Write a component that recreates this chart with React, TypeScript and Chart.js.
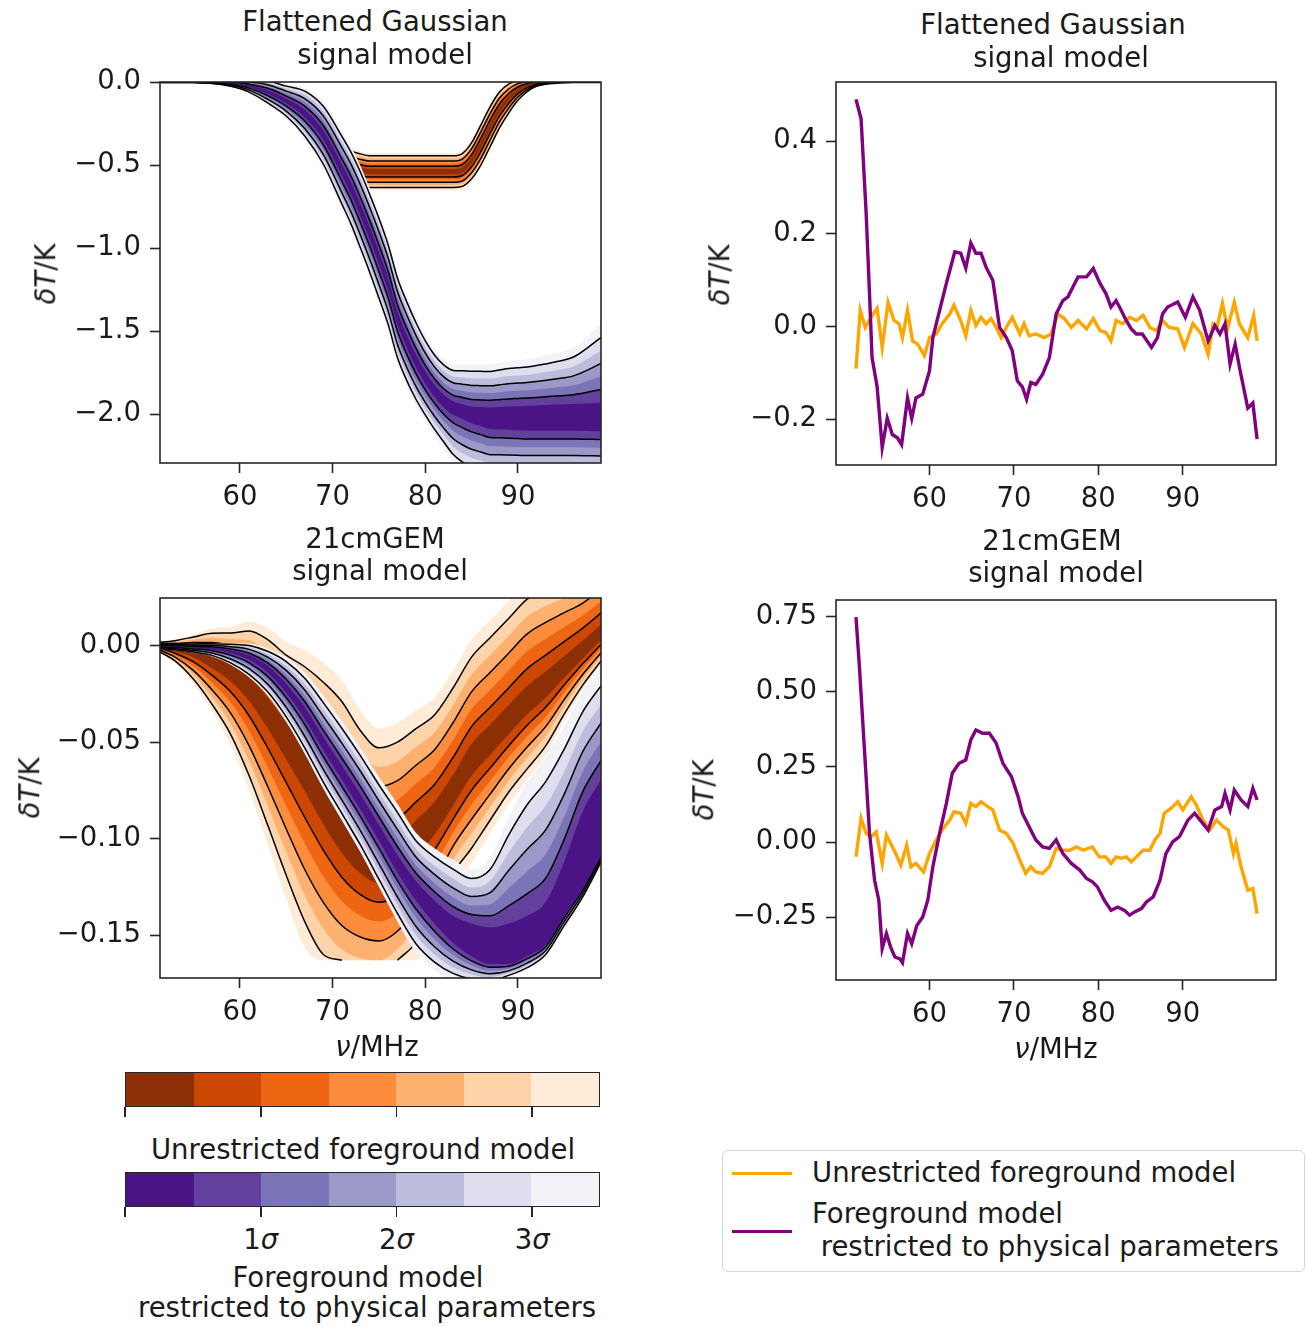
import React, { useEffect, useRef } from 'react';
import { Chart, registerables } from 'chart.js';
Chart.register(...registerables);

const FONT = '"DejaVu Sans", sans-serif';
const FS = 27.5;

// ---------- Left panels: posterior bands ----------
// Flattened Gaussian signal model
const fgFreq = [51, 55, 57, 59, 61, 63, 65, 67, 69, 71, 72, 73, 74, 75, 76, 77, 78, 79, 80, 81, 82, 83, 84, 85, 86, 87, 88, 89, 90, 91, 92, 94, 96, 99];
const fgUnresMean = [0, 0, -0.002, -0.006, -0.02, -0.05, -0.1, -0.19, -0.32, -0.47, -0.515, -0.532, -0.54, -0.54, -0.54, -0.54, -0.54, -0.54, -0.54, -0.54, -0.54, -0.54, -0.53, -0.475, -0.38, -0.27, -0.17, -0.1, -0.05, -0.022, -0.008, -0.001, 0, 0];
const fgUnresSig = [0.001, 0.001, 0.002, 0.004, 0.008, 0.014, 0.022, 0.03, 0.035, 0.035, 0.034, 0.033, 0.032, 0.032, 0.032, 0.032, 0.032, 0.032, 0.032, 0.032, 0.032, 0.032, 0.033, 0.036, 0.04, 0.04, 0.036, 0.029, 0.02, 0.012, 0.006, 0.002, 0.001, 0.001];
const fgPhysMean = [0, 0, -0.003, -0.008, -0.025, -0.06, -0.115, -0.19, -0.32, -0.53, -0.64, -0.77, -0.91, -1.06, -1.22, -1.42, -1.56, -1.68, -1.78, -1.86, -1.92, -1.96, -1.98, -2.0, -2.01, -2.02, -2.02, -2.02, -2.02, -2.02, -2.02, -2.02, -2.02, -2.02];
// offsets of the innermost (0.5 sigma) and outermost (3.5 sigma) contour from the centre
const fgPhysInUp = [0.0005, 0.0005, 0.001, 0.003, 0.006, 0.011, 0.015, 0.0225, 0.029, 0.034, 0.036, 0.038, 0.039, 0.04, 0.04, 0.04, 0.0395, 0.0385, 0.037, 0.036, 0.036, 0.037, 0.04, 0.045, 0.052, 0.06, 0.062, 0.065, 0.0675, 0.07, 0.072, 0.077, 0.08, 0.09];
const fgPhysOutUp = [0.0035, 0.0035, 0.007, 0.021, 0.042, 0.077, 0.105, 0.1575, 0.203, 0.238, 0.252, 0.266, 0.273, 0.28, 0.28, 0.28, 0.2765, 0.2695, 0.259, 0.252, 0.252, 0.26, 0.28, 0.3, 0.31, 0.32, 0.33, 0.34, 0.345, 0.35, 0.36, 0.385, 0.42, 0.56];
const fgPhysInDn = [0.0005, 0.0005, 0.001, 0.003, 0.006, 0.011, 0.015, 0.0225, 0.029, 0.034, 0.036, 0.038, 0.039, 0.04, 0.04, 0.04, 0.0395, 0.0385, 0.037, 0.037, 0.04, 0.045, 0.05, 0.055, 0.062, 0.07, 0.072, 0.075, 0.0775, 0.08, 0.08, 0.08, 0.08, 0.085];
const fgPhysOutDn = [0.0035, 0.0035, 0.007, 0.021, 0.042, 0.077, 0.105, 0.1575, 0.203, 0.238, 0.252, 0.266, 0.273, 0.28, 0.28, 0.28, 0.2765, 0.2695, 0.262, 0.27, 0.29, 0.33, 0.36, 0.37, 0.375, 0.38, 0.38, 0.38, 0.38, 0.38, 0.38, 0.38, 0.38, 0.38];

// 21cmGEM signal model
const gemFreq = [51, 53, 55, 57, 59, 61, 63, 65, 67, 69, 71, 73, 75, 77, 79, 81, 83, 85, 87, 89, 91, 93, 95, 97, 99];
const gemUnresMean = [0, -0.002, -0.004, -0.008, -0.013, -0.021, -0.033, -0.047, -0.062, -0.079, -0.095, -0.107, -0.113, -0.11, -0.1, -0.09, -0.076, -0.06, -0.05, -0.04, -0.03, -0.022, -0.013, -0.004, 0.005];
const gemUnresSigUp = [0.0005, 0.0015, 0.0028, 0.0048, 0.0065, 0.0095, 0.012, 0.014, 0.017, 0.02, 0.022, 0.021, 0.02, 0.02, 0.019, 0.018, 0.018, 0.018, 0.018, 0.018, 0.018, 0.017, 0.015, 0.013, 0.012];
const gemUnresSigDn = [0.0008, 0.002, 0.0045, 0.0075, 0.011, 0.0155, 0.02, 0.024, 0.027, 0.027, 0.025, 0.022, 0.02, 0.019, 0.018, 0.016, 0.014, 0.015, 0.0135, 0.012, 0.0113, 0.01, 0.0075, 0.0055, 0.0043];
const gemUnresFloor = -0.163;
const gemPhysMean = [-0.0003, -0.0005, -0.001, -0.0015, -0.003, -0.006, -0.012, -0.022, -0.035, -0.051, -0.066, -0.081, -0.097, -0.113, -0.127, -0.138, -0.147, -0.153, -0.156, -0.155, -0.151, -0.144, -0.126, -0.106, -0.089];
const gemPhysInUp = [0.0002, 0.00025, 0.0003, 0.0004, 0.0006, 0.001, 0.0015, 0.0022, 0.003, 0.0036, 0.0039, 0.004, 0.0042, 0.0045, 0.005, 0.006, 0.007, 0.009, 0.01, 0.011, 0.011, 0.011, 0.014, 0.02, 0.02];
const gemPhysOutUp = [0.0014, 0.0018, 0.0021, 0.0028, 0.0042, 0.007, 0.0105, 0.016, 0.021, 0.025, 0.027, 0.028, 0.029, 0.031, 0.03, 0.033, 0.036, 0.037, 0.046, 0.066, 0.08, 0.086, 0.084, 0.082, 0.078];
const gemPhysInDn = [0.0002, 0.0003, 0.0004, 0.0006, 0.001, 0.0015, 0.002, 0.0025, 0.003, 0.0033, 0.0035, 0.0038, 0.004, 0.0045, 0.005, 0.006, 0.007, 0.008, 0.009, 0.01, 0.01, 0.011, 0.014, 0.02, 0.02];
const gemPhysOutDn = [0.0014, 0.002, 0.0028, 0.0042, 0.007, 0.0105, 0.014, 0.0175, 0.021, 0.023, 0.0245, 0.026, 0.028, 0.03, 0.032, 0.03, 0.026, 0.022, 0.019, 0.017, 0.017, 0.017, 0.02, 0.025, 0.0235];

// ---------- Right panels: residuals ----------
const resFgPhysX = [51.3, 51.9, 52.5, 52.9, 53.2, 53.8, 54.4, 55.0, 55.6, 56.2, 56.7, 57.4, 57.9, 58.4, 59.2, 60.0, 60.4, 61.2, 62.0, 63.0, 63.7, 64.3, 64.9, 65.5, 66.1, 66.7, 67.5, 68.3, 69.1, 69.8, 70.4, 71.0, 71.5, 72.0, 72.6, 73.4, 74.2, 75.0, 75.8, 76.4, 77.0, 77.6, 78.6, 79.4, 80.2, 80.9, 81.5, 82.1, 82.7, 83.3, 83.9, 84.5, 85.2, 86.3, 87.0, 87.6, 88.2, 89.4, 90.3, 91.2, 92.0, 93.0, 93.8, 94.4, 95.0, 95.6, 96.2, 96.8, 97.7, 98.3, 98.8];
const resFgPhysY = [0.49, 0.448, 0.245, 0.07, -0.067, -0.13, -0.261, -0.198, -0.233, -0.24, -0.255, -0.154, -0.198, -0.154, -0.146, -0.096, -0.024, 0.035, 0.093, 0.161, 0.158, 0.126, 0.18, 0.158, 0.158, 0.128, 0.1, -0.002, -0.024, -0.052, -0.117, -0.13, -0.157, -0.121, -0.125, -0.103, -0.067, 0.027, 0.056, 0.064, 0.086, 0.107, 0.107, 0.125, 0.093, 0.071, 0.042, 0.056, 0.035, 0.013, -0.005, -0.016, -0.016, -0.045, -0.024, 0.027, 0.042, 0.053, 0.02, 0.064, 0.035, -0.031, 0.002, -0.016, 0.006, -0.081, -0.038, -0.096, -0.176, -0.165, -0.243];
const resFgUnresX = [51.3, 51.8, 52.4, 53.1, 53.8, 54.4, 55.1, 55.8, 56.4, 56.8, 57.4, 58.0, 58.6, 59.4, 60.0, 60.8, 61.5, 62.4, 62.9, 63.7, 64.3, 64.9, 65.5, 66.1, 66.7, 67.3, 67.9, 68.5, 69.1, 69.8, 70.7, 71.2, 71.8, 72.6, 73.6, 74.4, 75.2, 76.0, 76.8, 77.6, 78.6, 79.4, 80.2, 80.9, 81.5, 82.1, 82.9, 83.7, 84.5, 85.3, 86.1, 86.9, 87.6, 88.4, 89.4, 90.2, 91.2, 92.2, 93.0, 93.6, 94.1, 94.7, 95.3, 96.1, 96.7, 97.7, 98.4, 98.8];
const resFgUnresY = [-0.091, 0.035, -0.002, 0.02, 0.039, -0.045, 0.052, 0.013, 0.006, -0.024, 0.035, -0.031, -0.038, -0.063, -0.024, -0.016, 0.006, 0.027, 0.046, 0.013, -0.02, 0.035, 0.002, 0.02, 0.006, 0.017, -0.002, -0.024, -0.002, 0.02, -0.016, 0.006, -0.02, -0.016, -0.024, -0.016, 0.027, 0.017, -0.002, 0.013, -0.005, 0.017, -0.009, -0.013, -0.031, 0.013, 0.006, 0.02, 0.013, 0.024, -0.002, -0.009, 0.013, -0.002, -0.005, -0.045, 0.006, -0.016, -0.06, 0.006, 0.002, 0.05, -0.005, 0.052, 0.006, -0.024, 0.024, -0.031];
const resGemPhysX = [51.3, 51.7, 52.3, 52.9, 53.5, 54.0, 54.4, 54.9, 55.4, 55.9, 56.5, 56.8, 57.4, 57.9, 58.5, 59.2, 59.8, 60.4, 61.2, 62.0, 62.7, 63.5, 64.3, 64.9, 65.5, 66.3, 67.1, 67.9, 68.7, 69.7, 70.5, 71.0, 71.8, 72.6, 73.4, 74.2, 75.0, 75.8, 76.8, 77.8, 78.6, 79.3, 79.9, 80.7, 81.5, 82.3, 83.1, 83.7, 84.3, 85.1, 85.7, 86.5, 87.3, 88.0, 88.8, 89.6, 90.6, 91.4, 92.2, 93.0, 93.8, 94.6, 95.0, 95.6, 96.1, 96.9, 97.7, 98.3, 98.8];
const resGemPhysY = [0.748, 0.584, 0.307, 0.029, -0.127, -0.193, -0.354, -0.304, -0.349, -0.382, -0.388, -0.401, -0.304, -0.338, -0.277, -0.249, -0.193, -0.082, 0.029, 0.129, 0.229, 0.262, 0.273, 0.34, 0.373, 0.362, 0.362, 0.329, 0.262, 0.218, 0.151, 0.096, 0.051, 0.007, -0.016, -0.021, 0.007, -0.038, -0.071, -0.093, -0.121, -0.132, -0.149, -0.193, -0.227, -0.216, -0.227, -0.243, -0.232, -0.221, -0.199, -0.182, -0.127, -0.038, 0.001, 0.018, 0.073, 0.096, 0.068, 0.04, 0.107, 0.118, 0.162, 0.107, 0.173, 0.14, 0.118, 0.179, 0.14];
const resGemUnresX = [51.3, 51.9, 52.5, 53.1, 53.7, 54.4, 54.9, 55.4, 56.0, 56.6, 57.3, 57.8, 58.4, 59.3, 60.0, 60.8, 61.5, 62.4, 62.9, 63.7, 64.3, 64.9, 65.5, 66.1, 66.9, 67.5, 68.3, 69.1, 69.9, 70.7, 71.4, 72.0, 72.6, 73.4, 74.2, 75.0, 75.8, 76.6, 77.4, 78.2, 79.3, 80.1, 80.9, 81.5, 82.1, 82.7, 83.3, 83.9, 84.5, 85.3, 86.1, 86.7, 87.3, 87.8, 88.6, 89.4, 90.0, 91.0, 91.6, 92.4, 93.2, 94.0, 94.8, 95.4, 96.0, 96.3, 96.9, 97.7, 98.3, 98.8];
const resGemUnresY = [-0.049, 0.079, 0.029, 0.018, 0.034, -0.071, 0.023, -0.004, -0.038, -0.077, -0.01, -0.082, -0.071, -0.099, -0.038, 0.007, 0.04, 0.073, 0.101, 0.096, 0.062, 0.129, 0.118, 0.134, 0.118, 0.107, 0.04, 0.029, -0.004, -0.06, -0.104, -0.082, -0.099, -0.104, -0.082, -0.021, -0.027, -0.027, -0.016, -0.027, -0.016, -0.049, -0.049, -0.071, -0.049, -0.054, -0.049, -0.066, -0.049, -0.027, -0.027, 0.007, 0.029, 0.096, 0.112, 0.134, 0.107, 0.151, 0.123, 0.073, 0.04, 0.073, 0.051, 0.04, -0.038, -0.004, -0.082, -0.16, -0.154, -0.238];

// ---------- Ticks ----------
const freqTicks = [60, 70, 80, 90];
const fgBandTicks = [0, -0.5, -1.0, -1.5, -2.0];
const gemBandTicks = [0, -0.05, -0.1, -0.15];
const fgResTicks = [0.4, 0.2, 0, -0.2];
const gemResTicks = [0.75, 0.5, 0.25, 0, -0.25];
const sigmaTickLabels = ['', '1', '2', '3'];

// ---------- Colours ----------
const orangeLevels = ['#8c2f04', '#cc4802', '#ee6513', '#fd8d3c', '#fdb171', '#fdd4aa', '#feebd8'];
const purpleLevels = ['#4a1486', '#62409c', '#7b74b6', '#9c99c9', '#bebcdd', '#dedeee', '#f3f2f8'];
const unresColor = '#ffa500';
const physColor = '#800080';

const PAD_L = 150, PAD_T = 40, PAD_R = 20, PAD_B = 60;

function fmt(v: number, dec: number) {
  const s = Math.abs(v).toFixed(dec);
  return (v < -1e-9 ? '\u2212' : '') + s;
}

const scaleArr = (a: number[], f: number) => a.map((v) => v * f);

// level k (1..7) boundary = centre +/- (inner + (outer - inner) * (k - 1) / 6)
function bandDatasets(xs: number[], mean: number[], inUp: number[], outUp: number[], inDn: number[], outDn: number[], colors: string[], floor: number) {
  const off = (inn: number[], out: number[], i: number, k: number) => inn[i] + ((out[i] - inn[i]) * (k - 1)) / 6;
  const ds: any[] = [];
  for (let k = 7; k >= 1; k--) {
    const up = xs.map((x, i) => ({ x, y: Math.max(mean[i] + off(inUp, outUp, i, k), floor) }));
    const lo = xs.map((x, i) => ({ x, y: Math.max(mean[i] - off(inDn, outDn, i, k), floor) }));
    ds.push({ data: up, borderWidth: 0, borderColor: 'rgba(0,0,0,0)', pointRadius: 0, fill: false, cubicInterpolationMode: 'monotone', clip: 0 });
    ds.push({ data: lo, borderWidth: 0, borderColor: 'rgba(0,0,0,0)', pointRadius: 0, fill: '-1', backgroundColor: colors[k - 1], cubicInterpolationMode: 'monotone', clip: 0 });
  }
  for (const k of [2, 4, 6]) {
    for (const sgn of [1, -1]) {
      const raw = xs.map((x, i) => (sgn > 0 ? mean[i] + off(inUp, outUp, i, k) : mean[i] - off(inDn, outDn, i, k)));
      const data = xs.map((x, i) => {
        const y = raw[i];
        if (y >= floor) return { x, y };
        const prevAbove = i > 0 && raw[i - 1] >= floor;
        const nextAbove = i < raw.length - 1 && raw[i + 1] >= floor;
        return { x, y: prevAbove || nextAbove ? floor : null };
      });
      ds.push({ data, borderWidth: 1.5, borderColor: '#000', pointRadius: 0, fill: false, cubicInterpolationMode: 'monotone', clip: 0 });
    }
  }
  return ds;
}

const framePlugin = {
  id: 'frame',
  afterDatasetsDraw(chart: any) {
    const { ctx, chartArea } = chart;
    ctx.save();
    ctx.strokeStyle = '#262626';
    ctx.lineWidth = 1.6;
    ctx.strokeRect(chartArea.left, chartArea.top, chartArea.right - chartArea.left, chartArea.bottom - chartArea.top);
    ctx.restore();
  },
};

type Rect = { l: number; t: number; r: number; b: number };

function axis(kind: 'x' | 'y', min: number, max: number, ticks: number[], dec: number) {
  return {
    type: 'linear',
    min,
    max,
    afterBuildTicks: (s: any) => { s.ticks = ticks.map((v) => ({ value: v })); },
    afterFit: (s: any) => { if (kind === 'x') s.height = PAD_B; else s.width = PAD_L; },
    grid: { display: true, drawOnChartArea: false, drawTicks: true, tickLength: 10, tickWidth: 1.6, tickColor: '#262626' },
    border: { display: false },
    ticks: {
      font: { family: FONT, size: FS },
      color: '#1a1a1a',
      padding: kind === 'x' ? 8 : 9,
      maxRotation: 0,
      autoSkip: false,
      callback: (v: any) => (kind === 'x' ? String(v) : fmt(Number(v), dec)),
    },
  };
}

function Panel(props: { rect: Rect; build: () => any[]; x: [number, number]; y: [number, number]; yTicks: number[]; yDec: number }) {
  const ref = useRef<HTMLCanvasElement>(null);
  const { rect } = props;
  const w = rect.r - rect.l + PAD_L + PAD_R;
  const h = rect.b - rect.t + PAD_T + PAD_B;
  useEffect(() => {
    const chart = new Chart(ref.current as HTMLCanvasElement, {
      type: 'line',
      data: { datasets: props.build() },
      options: {
        responsive: false,
        animation: false,
        devicePixelRatio: 1,
        events: [],
        layout: { padding: { top: PAD_T, right: PAD_R, left: 0, bottom: 0 } },
        plugins: { legend: { display: false }, tooltip: { enabled: false }, title: { display: false } },
        scales: {
          x: axis('x', props.x[0], props.x[1], freqTicks, 0) as any,
          y: axis('y', props.y[0], props.y[1], props.yTicks, props.yDec) as any,
        },
      } as any,
      plugins: [framePlugin],
    });
    return () => chart.destroy();
  }, []);
  return <canvas ref={ref} width={w} height={h} style={{ position: 'absolute', left: rect.l - PAD_L, top: rect.t - PAD_T, width: w, height: h }} />;
}

function T(props: { x: number; y: number; rot?: boolean; left?: boolean; children: any }) {
  const tr = props.left ? 'translate(0,-50%)' : props.rot ? 'translate(-50%,-50%) rotate(-90deg)' : 'translate(-50%,-50%)';
  return (
    <div style={{ position: 'absolute', left: props.x, top: props.y, transform: tr, whiteSpace: 'pre', lineHeight: 1, fontSize: FS, fontFamily: FONT, color: '#1a1a1a' }}>
      {props.children}
    </div>
  );
}

function zip(xs: number[], ys: number[]) {
  return xs.map((x, i) => ({ x, y: ys[i] }));
}

function resDatasets(px: number[], py: number[], ux: number[], uy: number[]) {
  return [
    { data: zip(px, py), borderColor: physColor, borderWidth: 3.4, pointRadius: 0, fill: false, order: 0, clip: 0 },
    { data: zip(ux, uy), borderColor: unresColor, borderWidth: 3.4, pointRadius: 0, fill: false, order: 1, clip: 0 },
  ];
}

function ColorBar(props: { top: number; colors: string[]; labels: string[] }) {
  const left = 125, width = 475, height = 35;
  return (
    <>
      <div style={{ position: 'absolute', left, top: props.top, width, height, display: 'flex', boxSizing: 'border-box', border: '1.6px solid #262626' }}>
        {props.colors.map((c, i) => (
          <div key={i} style={{ flex: 1, background: c }} />
        ))}
      </div>
      {[0, 2, 4, 6].map((k, i) => (
        <React.Fragment key={k}>
          <div style={{ position: 'absolute', left: left + (width * k) / 7 - 0.8, top: props.top + height, width: 1.6, height: 10, background: '#262626' }} />
          {props.labels[i] ? (
            <T x={left + (width * k) / 7} y={props.top + height + 33}>
              {props.labels[i]}<i>σ</i>
            </T>
          ) : null}
        </React.Fragment>
      ))}
    </>
  );
}

export default function App() {
  const TL: Rect = { l: 160, t: 82, r: 601, b: 463 };
  const BL: Rect = { l: 160, t: 598, r: 601, b: 978 };
  const TR: Rect = { l: 836, t: 82, r: 1276, b: 465 };
  const BR: Rect = { l: 836, t: 600, r: 1276, b: 980 };
  return (
    <div style={{ position: 'absolute', left: 0, top: 0, width: 1307, height: 1327, background: '#fff', overflow: 'hidden' }}>
      <Panel rect={TL} x={[51.38, 98.97]} y={[-2.295, 0]} yTicks={fgBandTicks} yDec={1}
        build={() => [
          ...bandDatasets(fgFreq, fgUnresMean, scaleArr(fgUnresSig, 0.5), scaleArr(fgUnresSig, 3.5), scaleArr(fgUnresSig, 0.5), scaleArr(fgUnresSig, 3.5), orangeLevels, -10),
          ...bandDatasets(fgFreq, fgPhysMean, fgPhysInUp, fgPhysOutUp, fgPhysInDn, fgPhysOutDn, purpleLevels, -10),
        ].map((d, i, arr) => ({ ...d, order: arr.length - i }))} />
      <Panel rect={BL} x={[51.38, 98.97]} y={[-0.1722, 0.0246]} yTicks={gemBandTicks} yDec={2}
        build={() => [
          ...bandDatasets(gemFreq, gemUnresMean, scaleArr(gemUnresSigUp, 0.5), scaleArr(gemUnresSigUp, 3.5), scaleArr(gemUnresSigDn, 0.5), scaleArr(gemUnresSigDn, 3.5), orangeLevels, gemUnresFloor),
          ...bandDatasets(gemFreq, gemPhysMean, gemPhysInUp, gemPhysOutUp, gemPhysInDn, gemPhysOutDn, purpleLevels, -10),
        ].map((d, i, arr) => ({ ...d, order: arr.length - i }))} />
      <Panel rect={TR} x={[48.93, 101.04]} y={[-0.2987, 0.5274]} yTicks={fgResTicks} yDec={1}
        build={() => resDatasets(resFgPhysX, resFgPhysY, resFgUnresX, resFgUnresY)} />
      <Panel rect={BR} x={[48.93, 101.04]} y={[-0.4585, 0.805]} yTicks={gemResTicks} yDec={2}
        build={() => resDatasets(resGemPhysX, resGemPhysY, resGemUnresX, resGemUnresY)} />

      <T x={375} y={22}>Flattened Gaussian</T>
      <T x={385} y={55}>signal model</T>
      <T x={1053} y={25}>Flattened Gaussian</T>
      <T x={1061} y={58}>signal model</T>
      <T x={375} y={539}>21cmGEM</T>
      <T x={380} y={571}>signal model</T>
      <T x={1052} y={541}>21cmGEM</T>
      <T x={1056} y={573}>signal model</T>

      <T x={46} y={274} rot><i>δT</i>/K</T>
      <T x={30} y={788} rot><i>δT</i>/K</T>
      <T x={720} y={275} rot><i>δT</i>/K</T>
      <T x={704} y={790} rot><i>δT</i>/K</T>
      <T x={377} y={1047}><i>ν</i>/MHz</T>
      <T x={1056} y={1049}><i>ν</i>/MHz</T>

      <ColorBar top={1072} colors={orangeLevels} labels={['', '', '', '']} />
      <T x={363} y={1150}>Unrestricted foreground model</T>
      <ColorBar top={1172} colors={purpleLevels} labels={sigmaTickLabels} />
      <T x={358} y={1278}>Foreground model</T>
      <T x={367} y={1308}>restricted to physical parameters</T>

      <div style={{ position: 'absolute', left: 722, top: 1150, width: 583, height: 122, boxSizing: 'border-box', border: '1.5px solid #d6d6d6', borderRadius: 6, background: '#fff' }} />
      <div style={{ position: 'absolute', left: 732, top: 1171.5, width: 60, height: 3.4, background: unresColor }} />
      <div style={{ position: 'absolute', left: 732, top: 1229.5, width: 60, height: 3.4, background: physColor }} />
      <T x={812} y={1173} left>Unrestricted foreground model</T>
      <T x={812} y={1214} left>Foreground model</T>
      <T x={812} y={1247} left>{' restricted to physical parameters'}</T>
    </div>
  );
}
